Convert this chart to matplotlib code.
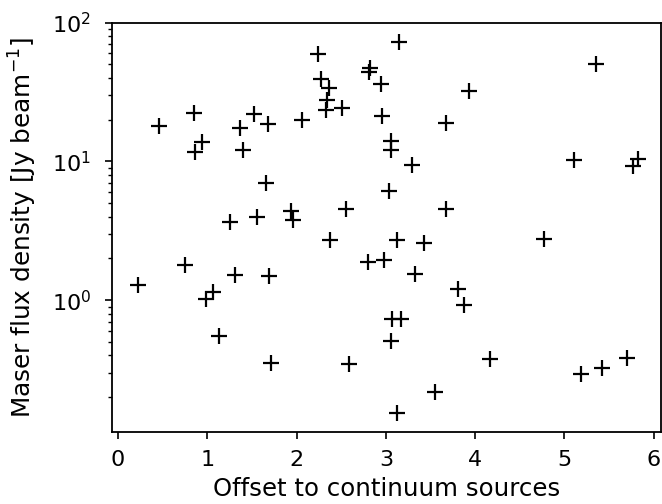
import matplotlib
matplotlib.use("Agg")
import matplotlib.pyplot as plt

offset = [0.22, 0.46, 0.75, 0.85, 0.86, 0.94, 0.99, 1.07, 1.13, 1.25,
          1.31, 1.37, 1.40, 1.52, 1.56, 1.66, 1.68, 1.69, 1.72, 1.94,
          1.96, 2.06, 2.24, 2.27, 2.33, 2.34, 2.36, 2.37, 2.51, 2.55,
          2.59, 2.80, 2.81, 2.82, 2.95, 2.96, 2.98, 3.04, 3.06, 3.06,
          3.06, 3.07, 3.13, 3.13, 3.15, 3.17, 3.29, 3.33, 3.43, 3.55,
          3.67, 3.67, 3.81, 3.88, 3.93, 4.17, 4.77, 5.11, 5.18, 5.35,
          5.42, 5.70, 5.77, 5.82]
flux = [1.29, 17.9, 1.79, 22.4, 11.7, 13.9, 1.02, 1.15, 0.551, 3.66,
        1.53, 17.3, 12.1, 21.9, 3.96, 6.98, 18.5, 1.50, 0.352, 4.42,
        3.81, 19.9, 59.5, 39.3, 23.5, 27.8, 33.9, 2.70, 24.2, 4.51,
        0.348, 1.88, 44.4, 47.2, 36.4, 21.1, 1.94, 6.11, 14.1, 12.0,
        0.510, 0.734, 2.73, 0.153, 72.6, 0.726, 9.36, 1.55, 2.58, 0.219,
        18.8, 4.51, 1.21, 0.916, 32.4, 0.374, 2.78, 10.3, 0.292, 50.5,
        0.326, 0.385, 9.2, 10.4]

fig = plt.figure(figsize=(6.62, 5.04), dpi=100)
ax = fig.add_axes([0.169, 0.143, 0.829, 0.812])
ax.plot(offset, flux, linestyle="none", marker="+", color="black",
        markersize=11, markeredgewidth=1.6)
ax.set_yscale("log")
ax.set_xlim(-0.067, 6.077)
ax.set_ylim(0.1123, 100)
ax.set_xticks([0, 1, 2, 3, 4, 5, 6])
ax.tick_params(which="major", length=5, width=1.2, labelsize=16)
ax.tick_params(which="minor", length=3, width=1.0)
ax.tick_params(axis="x", pad=8)
ax.tick_params(axis="y", pad=10)
ax.set_xlabel("Offset to continuum sources", fontsize=17.6)
ax.set_ylabel("Maser flux density [Jy beam$^{-1}$]", fontsize=17.8)
ax.xaxis.set_label_coords(0.5, -0.111)
ax.yaxis.set_label_coords(-0.133, 0.5)
for s in ax.spines.values():
    s.set_linewidth(1.3)
fig.savefig("out.png", dpi=100)
